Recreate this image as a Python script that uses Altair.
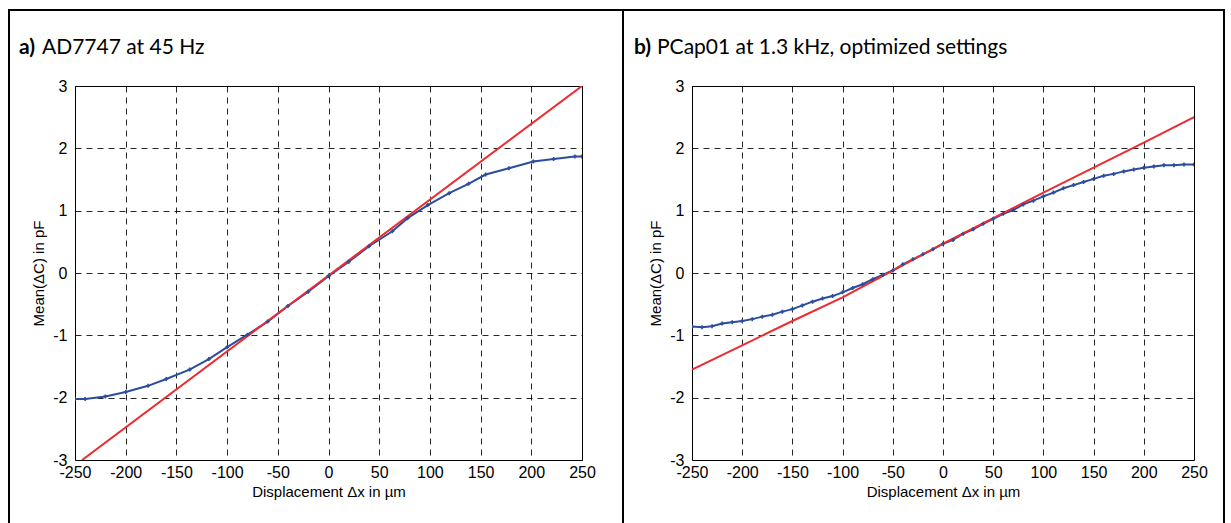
import altair as alt
import pandas as pd

# ---------------- data ----------------
x_ticks = [-250, -200, -150, -100, -50, 0, 50, 100, 150, 200, 250]
y_ticks = [-3, -2, -1, 0, 1, 2, 3]

# panel a) AD7747 at 45 Hz : measured mean(dC)
a_x = [-250, -240, -220, -200, -178, -160, -137, -118, -100, -80, -60, -40, -20,
       0, 20, 40, 63, 78, 98, 119, 138, 155, 178, 202, 222, 243, 250]
a_y = [-2.02, -2.02, -1.98, -1.91, -1.81, -1.70, -1.55, -1.38, -1.19, -0.99, -0.78,
       -0.53, -0.30, -0.05, 0.18, 0.43, 0.67, 0.88, 1.09, 1.28, 1.43, 1.58, 1.68,
       1.79, 1.83, 1.87, 1.87]
# panel a) linear reference
a_fit_x = [-243, 0, 250]
a_fit_y = [-3.0, -0.04, 3.0]

# panel b) PCap01 at 1.3 kHz : measured mean(dC)
b_x = list(range(-250, 251, 10))
b_y = [-0.86, -0.87, -0.855, -0.81, -0.79, -0.77, -0.74, -0.70, -0.67, -0.62,
       -0.58, -0.52, -0.46, -0.41, -0.37, -0.31, -0.24, -0.18, -0.10, -0.03,
       0.04, 0.14, 0.22, 0.30, 0.38, 0.47, 0.53, 0.63, 0.70, 0.79,
       0.87, 0.95, 1.01, 1.10, 1.16, 1.23, 1.29, 1.36, 1.41, 1.46,
       1.51, 1.56, 1.59, 1.63, 1.66, 1.69, 1.71, 1.73, 1.73, 1.74, 1.74]
# panel b) linear reference
b_fit_x = [-250, -200, -150, -100, -50, 0, 50, 100, 150, 200, 250]
b_fit_y = [-1.55, -1.16, -0.77, -0.39, 0.04, 0.47, 0.88, 1.29, 1.69, 2.09, 2.50]

x_title = "Displacement \u0394x in \u00b5m"
y_title = "Mean(\u0394C) in pF"

BLUE = "#2C4C9E"
RED = "#EE2B2F"
AXFONT = "Liberation Sans"
TFONT = "Lato"

W, H = 507, 374


def panel(mx, my, fx, fy, lab, title, lab_x, title_x, borders):
    meas = pd.DataFrame({"x": mx, "y": my})
    fit = pd.DataFrame({"x": fx, "y": fy})
    one = pd.DataFrame({"k": [0]})
    xs = alt.Scale(domain=[-250, 250], nice=False, zero=False)
    ys = alt.Scale(domain=[-3, 3], nice=False, zero=False)
    xax = alt.Axis(values=x_ticks, title=x_title, labelFlush=False, labelOverlap=False,
                   labelExpr="'' + datum.value")
    yax = alt.Axis(values=y_ticks, title=y_title, labelOverlap=False,
                   labelExpr="'' + datum.value")

    blue_line = alt.Chart(meas).mark_line(color=BLUE, strokeWidth=2, clip=True).encode(
        x=alt.X("x:Q", scale=xs, axis=xax),
        y=alt.Y("y:Q", scale=ys, axis=yax),
    )
    red_line = alt.Chart(fit).mark_line(color=RED, strokeWidth=2, clip=True).encode(
        x=alt.X("x:Q", scale=xs), y=alt.Y("y:Q", scale=ys)
    )
    pts = alt.Chart(meas).mark_point(
        shape="cross", filled=True, size=16, color=BLUE, opacity=1, clip=True
    ).encode(x=alt.X("x:Q", scale=xs), y=alt.Y("y:Q", scale=ys))

    t1 = alt.Chart(one).mark_text(
        text=lab, font=TFONT, fontSize=21, fontWeight="bold", align="left",
        baseline="alphabetic", color="black"
    ).encode(x=alt.value(lab_x), y=alt.value(-32))
    t2 = alt.Chart(one).mark_text(
        text=title, font=TFONT, fontSize=21, align="left",
        baseline="alphabetic", color="black"
    ).encode(x=alt.value(title_x), y=alt.value(-32))

    layers = [blue_line, red_line, pts, t1, t2]
    if borders:
        rule = alt.Chart(one).mark_rule(color="black", strokeWidth=2)
        layers += [
            rule.encode(x=alt.value(-66), x2=alt.value(1149), y=alt.value(-76)),
            rule.encode(x=alt.value(-66), y=alt.value(-77), y2=alt.value(445)),
            rule.encode(x=alt.value(548), y=alt.value(-77), y2=alt.value(445)),
            rule.encode(x=alt.value(1149), y=alt.value(-77), y2=alt.value(445)),
        ]
    return alt.layer(*layers).properties(width=W if borders else 502, height=H)


pa = panel(a_x, a_y, a_fit_x, a_fit_y, "a)", "AD7747 at 45 Hz", -56, -33, True)
pb = panel(b_x, b_y, b_fit_x, b_fit_y, "b)", "PCap01 at 1.3 kHz, optimized settings", -58, -35, False)

chart = alt.hconcat(pa, pb, spacing=110, bounds="flush").properties(
    padding={"left": 7, "top": 7, "right": 0, "bottom": 0},
    background="white",
).configure_view(
    stroke="black", strokeWidth=1
).configure_axis(
    grid=True, gridColor="black", gridDash=[6, 5], gridWidth=1, gridOpacity=0.85,
    ticks=False, domain=False,
    labelFont=AXFONT, labelFontSize=16, labelColor="black",
    titleFont=AXFONT, titleFontSize=15, titleFontWeight="normal", titleColor="black",
).configure_axisX(
    labelPadding=4, titlePadding=4
).configure_axisY(
    labelPadding=8, titlePadding=6
)

chart.save("out.html", embed_options={"renderer": "svg", "actions": False})
